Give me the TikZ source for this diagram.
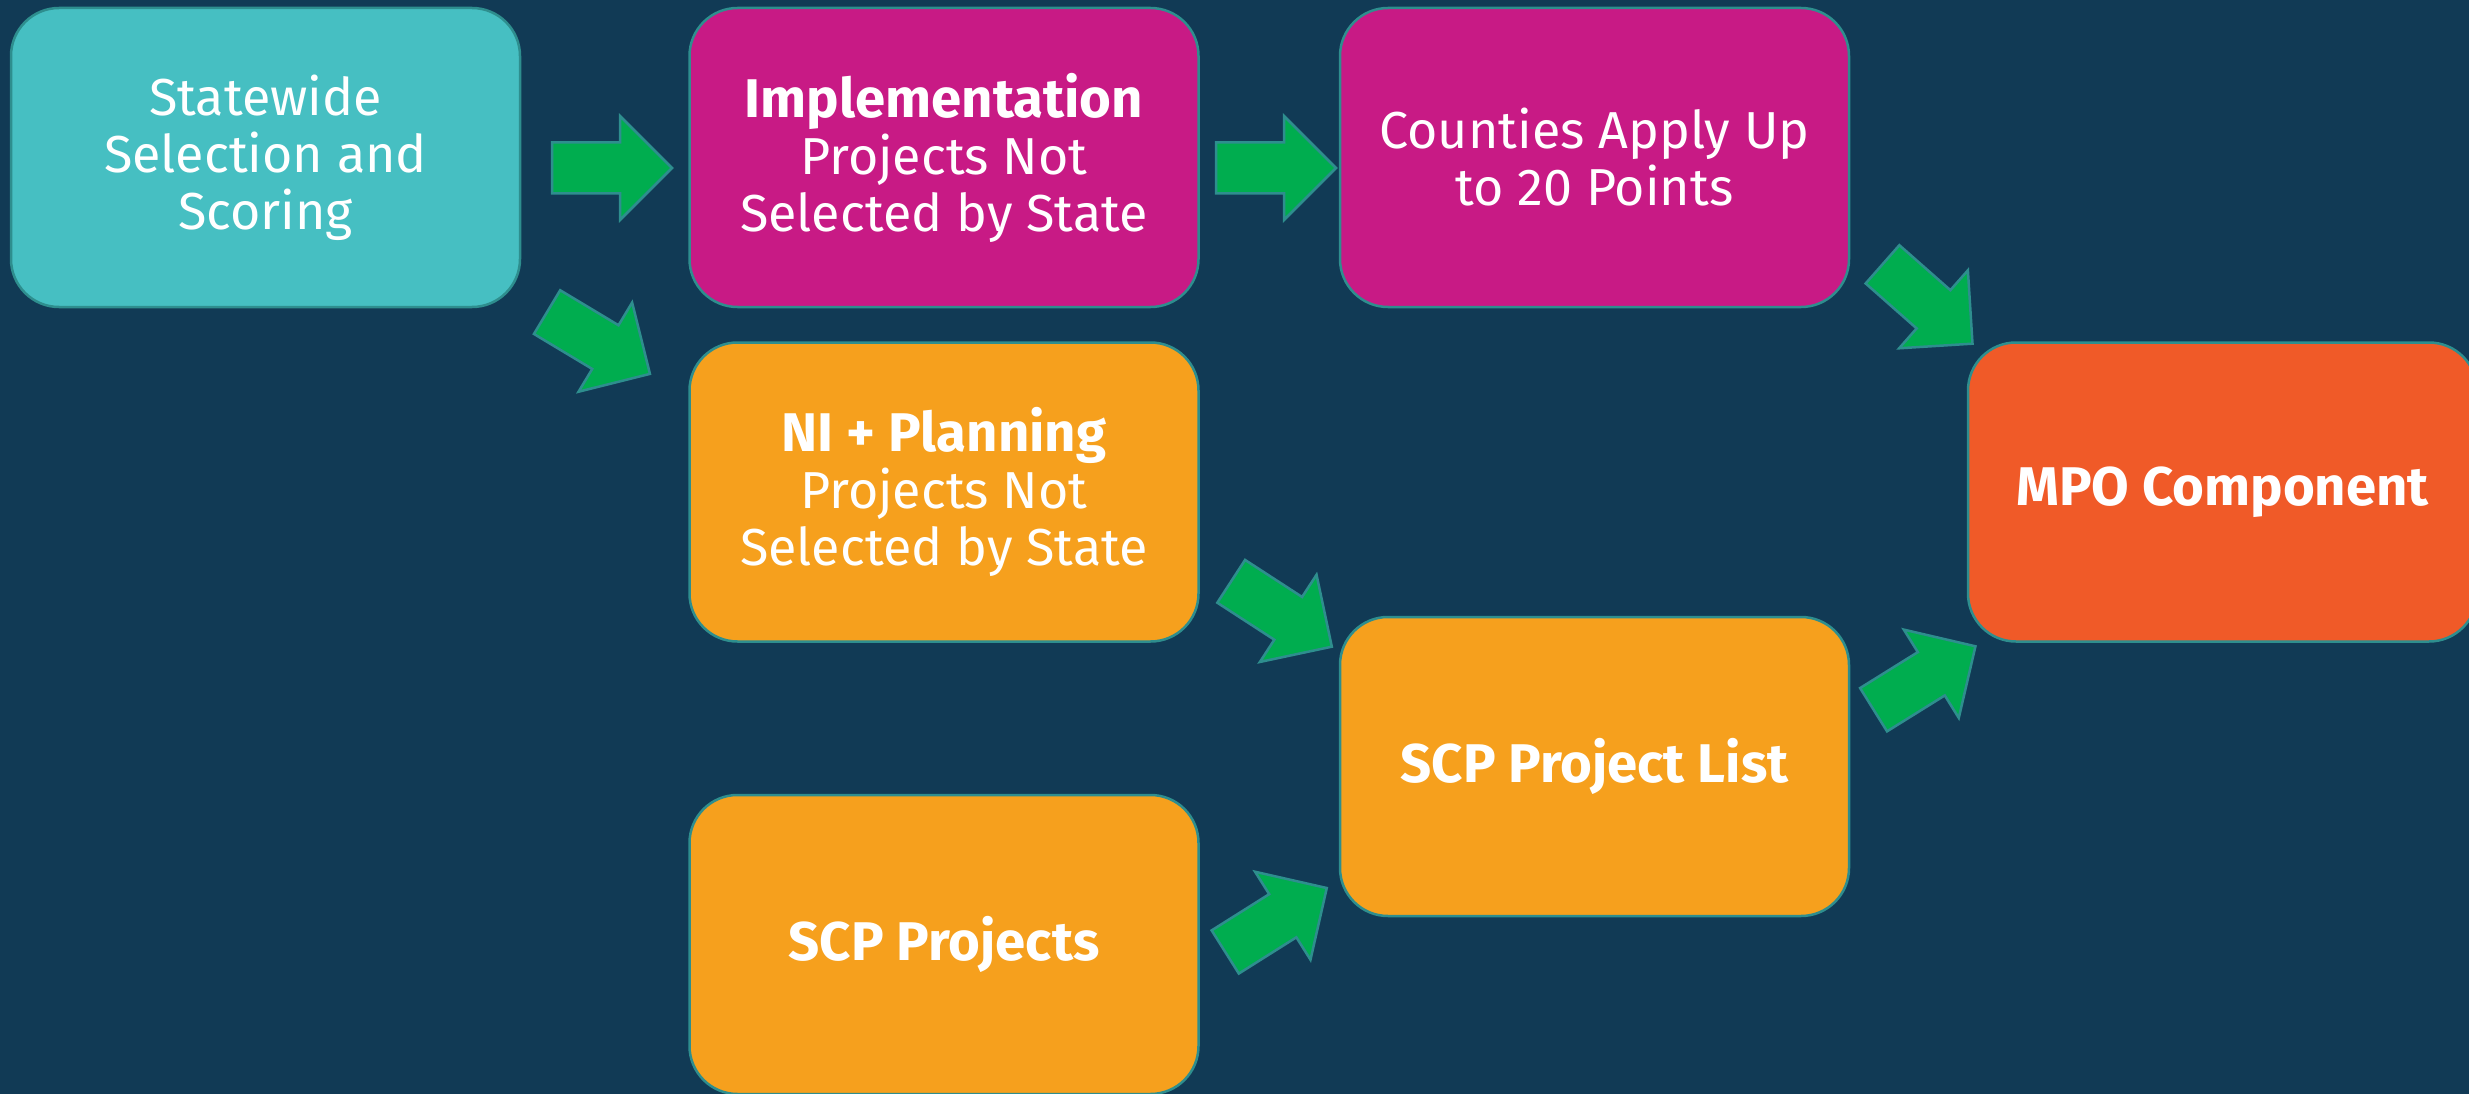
\documentclass[tikz,border=0pt]{standalone}
\usepackage{fontspec}
\setmainfont{Fira Sans}
\definecolor{bgnavy}{HTML}{113A55}
\definecolor{tealbox}{HTML}{46BFC2}
\definecolor{magentabox}{HTML}{C81A85}
\definecolor{orangebox}{HTML}{F6A01D}
\definecolor{redbox}{HTML}{F05A28}
\definecolor{arrowgreen}{HTML}{00AD4F}
\definecolor{edgeteal}{HTML}{2E8E8E}
\newcommand\myblockarrow[3]{%
  \path[blockarrow, shift={#2}, rotate=#3] (-60,-25.5) -- (8,-25.5) -- (8,-52) -- (60,0) -- (8,52) -- (8,25.5) -- (-60,25.5) -- cycle;
  \coordinate (#1) at #2;}
\newcommand\myboldtext[1]{{\fontsize{54.5}{57}\selectfont\bfseries #1}}
\begin{document}
\begin{tikzpicture}[x=1pt,y=-1pt,
  box/.style={draw=edgeteal, line width=2.5pt, rounded corners=48pt,
    minimum width=509pt, minimum height=299pt, text=white, align=center,
    font=\fontsize{52}{57}\selectfont, inner sep=0pt},
  blockarrow/.style={fill=arrowgreen, draw=edgeteal, line width=2.5pt, line join=miter}]
\fill[bgnavy] (0,0) rectangle (2469,1094);
\useasboundingbox (0,0) rectangle (2469,1094);

\node[box, fill=tealbox] (a) at (265.5,157.5) {Statewide\\Selection and\\Scoring};
\node[box, fill=magentabox] (b) at (944,157.5) {\myboldtext{Implementation}\\Projects Not\\Selected by State};
\node[box, fill=magentabox] (c) at (1594.5,157.5) {Counties Apply Up\\to 20 Points};
\node[box, fill=orangebox] (d) at (944,492) {\myboldtext{NI + Planning}\\Projects Not\\Selected by State};
\node[box, fill=orangebox] (e) at (944,944.5) {\myboldtext{SCP Projects}};
\node[box, fill=orangebox] (f) at (1594.5,766.5) {\myboldtext{SCP Project List}};
\node[box, fill=redbox] (g) at (2222.5,492) {\myboldtext{MPO Component}};

\myblockarrow{ab}{(612,168)}{0}
\myblockarrow{ad}{(598.5,343)}{-31}
\myblockarrow{bc}{(1276,168)}{0}
\myblockarrow{cg}{(1927.5,304)}{-41.4}
\myblockarrow{df}{(1281.5,614)}{-33}
\myblockarrow{ef}{(1276,920)}{32.2}
\myblockarrow{fg}{(1924.5,678)}{31.9}
\end{tikzpicture}
\end{document}
